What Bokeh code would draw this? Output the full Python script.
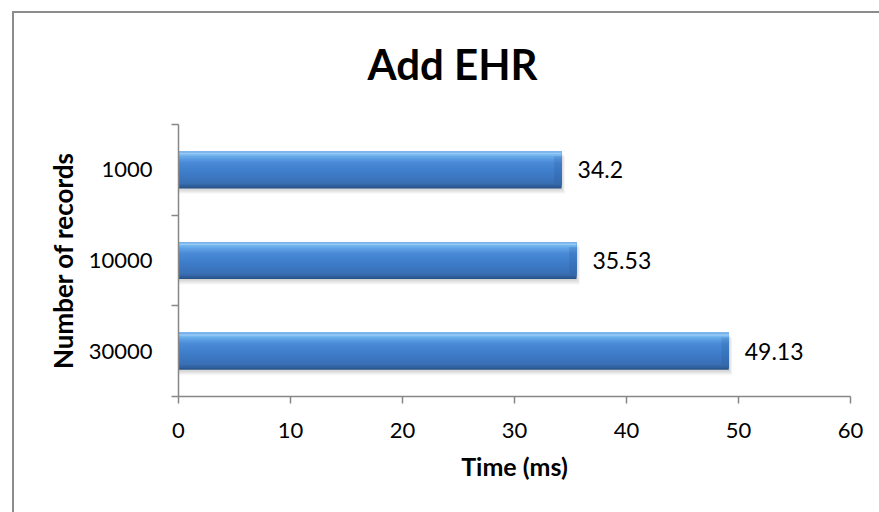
from bokeh.plotting import figure
from bokeh.models import (Range1d, LinearAxis, FixedTicker, ColumnDataSource, Title)
from bokeh.transform import dodge
from bokeh.core.properties import value
from bokeh.embed import file_html
from bokeh.resources import INLINE

# ---- data ----
categories = ["1000", "10000", "30000"]
times_ms = [34.2, 35.53, 49.13]
value_labels = ["34.2", "35.53", "49.13"]
x_ticks = [0, 10, 20, 30, 40, 50, 60]

FONT = "Lato"
AXIS_GREY = "#878787"

n = len(categories)
# category slots top-to-bottom on a numeric axis (slot centres)
ypos = [n - i - 0.5 for i in range(n)]
src = ColumnDataSource(dict(y=ypos, val=times_ms, lab=value_labels))

p = figure(width=879, height=512, output_backend="svg", toolbar_location=None,
           x_range=Range1d(0, 60), y_range=Range1d(0, n),
           y_axis_location=None, x_axis_location="below",
           min_border_left=178, min_border_right=29, min_border_top=124, min_border_bottom=116)
# chart-area border (left and top edges visible) drawn behind a transparent canvas
p.styles = {"background-color": "white",
            "box-shadow": "inset 12px 11px 0 0 #ffffff, inset 14px 13px 0 0 #8c8c8c"}
p.outline_line_color = None
p.grid.visible = False
p.background_fill_color = None
p.border_fill_color = None

# title
p.title = Title(text="Add EHR", align="left", offset=189, text_font=FONT,
                text_font_size="42px", text_font_style="bold", text_color="black", standoff=72)

# x axis
xa = p.xaxis[0]
xa.ticker = FixedTicker(ticks=x_ticks)
xa.axis_line_color = AXIS_GREY
xa.axis_line_width = 1.5
xa.major_tick_line_color = AXIS_GREY
xa.major_tick_line_width = 1.5
xa.major_tick_in = 0
xa.major_tick_out = 7
xa.minor_tick_line_color = None
xa.major_label_text_font = FONT
xa.major_label_text_font_size = "22px"
xa.major_label_text_color = "black"
xa.major_label_standoff = 19
xa.axis_label = "Time (ms)"
xa.axis_label_text_font = FONT
xa.axis_label_text_font_size = "25px"
xa.axis_label_text_font_style = "bold"
xa.axis_label_text_color = "black"
xa.axis_label_standoff = 10

# y axis: boundary ticks + category labels at slot centres
tick_axis = LinearAxis(ticker=FixedTicker(ticks=list(range(n + 1))),
                       major_label_text_font_size="1px", major_label_text_alpha=0,
                       major_label_standoff=0, major_tick_in=0, major_tick_out=7,
                       minor_tick_line_color=None, axis_line_color=AXIS_GREY, axis_line_width=1.5,
                       major_tick_line_color=AXIS_GREY, major_tick_line_width=1.5)
label_axis = LinearAxis(ticker=FixedTicker(ticks=ypos),
                        major_label_overrides={y: c for y, c in zip(ypos, categories)},
                        axis_line_color=None, major_tick_line_color=None, major_tick_out=0,
                        major_tick_in=0, minor_tick_line_color=None, major_label_standoff=19,
                        major_label_text_font=FONT, major_label_text_font_size="22px",
                        major_label_text_color="black",
                        axis_label="Number of records", axis_label_text_font=FONT,
                        axis_label_text_font_size="26px", axis_label_text_font_style="bold",
                        axis_label_text_color="black", axis_label_standoff=7)
p.add_layout(tick_axis, "left")
p.add_layout(label_axis, "left")

# ---- bars ----
BH = 0.41


def hex2rgb(h):
    h = h.lstrip("#")
    return [int(h[i:i + 2], 16) for i in (0, 2, 4)]


stops = [(0.00, "#5d9be0"), (0.05, "#9fd0f8"), (0.12, "#6aaeec"), (0.30, "#4a8ad6"),
         (0.55, "#3e7dca"), (0.85, "#3a70b6"), (0.95, "#2e5d98"), (1.00, "#264e80")]


def grad(t):
    for (t0, c0), (t1, c1) in zip(stops[:-1], stops[1:]):
        if t0 <= t <= t1:
            f = (t - t0) / (t1 - t0) if t1 > t0 else 0
            a, b = hex2rgb(c0), hex2rgb(c1)
            return "#%02x%02x%02x" % tuple(int(round(a[i] + (b[i] - a[i]) * f)) for i in range(3))
    return stops[-1][1]


# soft shadow
for k in range(1, 6):
    p.hbar(y=dodge("y", -0.012 * k), left=0, right=dodge("val", 0.06 * k), height=BH,
           source=src, fill_color="#000000", fill_alpha=0.035, line_color=None)

# gradient: nested bars anchored at the top edge, drawn largest (darkest) first
N = 24
for i in range(N):
    tb = 1 - i / N              # bottom of this layer, as fraction from the top
    h = tb * BH
    p.hbar(y=dodge("y", BH / 2 - h / 2), left=0, right="val", height=h,
           source=src, fill_color=grad(tb - 0.5 / N), line_color=None)

# bevelled right end face (slightly darker)
p.hbar(y="y", left=dodge("val", -0.65), right="val",
       height=BH * 0.72, source=src, fill_color="#1f4f8a", fill_alpha=0.18, line_color=None)

# value labels
p.text(x="val", y="y", text="lab", source=src, x_offset=16, text_baseline="middle",
       text_align="left", text_font=value(FONT), text_font_size="23px", text_color="black")

open("out.html", "w").write(file_html(p, INLINE))
